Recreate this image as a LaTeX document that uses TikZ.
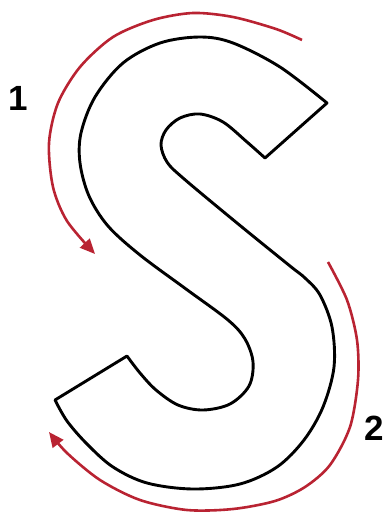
\documentclass[tikz,border=0pt]{standalone}
\usepackage{fontspec}
\setmainfont{Liberation Sans}
\usetikzlibrary{arrows.meta}
\definecolor{arrowred}{RGB}{185,35,50}

\begin{document}
\begin{tikzpicture}[x=1pt,y=-1pt,
  outline/.style={line width=2.9pt,line join=round},
  redarrow/.style={arrowred,line width=2.6pt,-{Triangle[length=15pt,width=13pt]}},
  num/.style={font=\fontsize{35}{35}\selectfont\bfseries,inner sep=0pt}]
\useasboundingbox (0,0) rectangle (389,514);

% the letter S
\draw[outline] plot[smooth,tension=0.55] coordinates {(327,103) (280,67) (233,43) (200,37)
    (160,43) (123,63) (95,97) (81,133) (80,163) (89,196) (108,226) (140,255) (186,289)
    (228,320) (245,339) (253,362) (249,386) (230,404) (203,410) (178,405)
    (156,390) (140,373) (127,356)}
  -- plot[smooth,tension=0.55] coordinates {(55,400) (67,421) (87,444) (113,467) (147,483)
    (193,489) (240,484) (277,467) (304,440) (323,407) (334,367) (332,327) (320,295)
    (305,278) (290,266) (237,223) (183,178) (167,162) (161,145) (166,130) (180,118)
    (200,114) (223,122) (247,142) (265,158)}
  -- cycle;

% arrows
\draw[redarrow] plot[smooth] coordinates {(302,40) (276,29) (233,17) (193,13) (153,20)
    (113,37) (80,67) (58,103) (49,143) (53,187) (67,221) (95,254)};
\draw[redarrow] plot[smooth] coordinates {(328,262) (347,300) (357,340) (358,380)
    (350,427) (330,465) (305,487) (275,501) (233,509) (187,510) (140,500) (100,480)
    (67,453) (49,432)};

\node[num] (n1) at (18,98) {1};
\node[num] (n2) at (374,428) {2};
\end{tikzpicture}
\end{document}
